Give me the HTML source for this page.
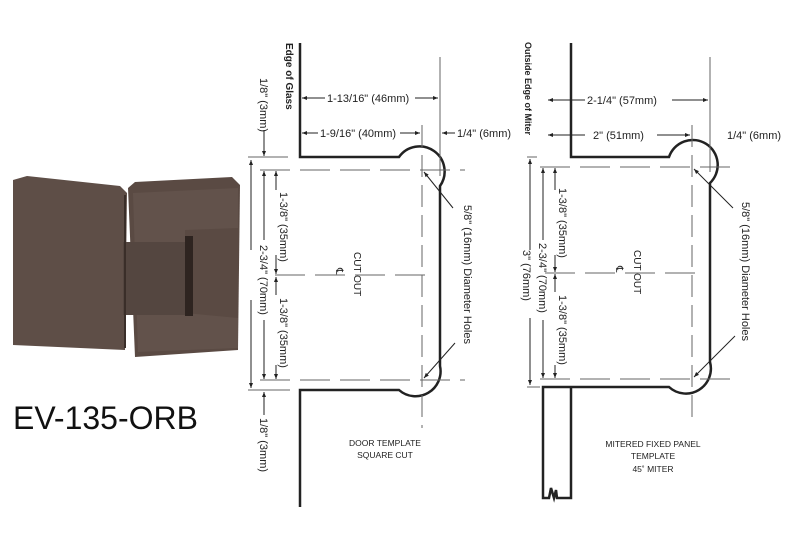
<!DOCTYPE html>
<html><head><style>
body{margin:0;background:#fff;}
svg{display:block;font-family:"Liberation Sans",sans-serif;}
</style></head><body>
<svg width="800" height="550" viewBox="0 0 800 550" xmlns="http://www.w3.org/2000/svg">
<defs>
<marker id="a" viewBox="0 0 10 10" refX="10" refY="5" markerWidth="7" markerHeight="5" orient="auto-start-reverse"><path d="M0,1 L10,5 L0,9z" fill="#222"/></marker>
</defs>
<!-- hinge photo -->
<polygon points="13,180 27,176 120,186 127,193 125,350 13,345" fill="#5e4e47"/>
<polygon points="128,188 135,182 232,177 240,185 238,350 135,357" fill="#5a4a43"/>
<polygon points="133,193 238,188 238,228 185,230 185,313 238,318 238,348 138,352" fill="#62524b"/>
<rect x="123" y="242" width="62" height="73" fill="#544640"/>
<rect x="185" y="236" width="8" height="80" fill="#2e2420"/>
<line x1="125" y1="195" x2="125" y2="348" stroke="#3a2e29" stroke-width="2"/>
<text x="13" y="429" font-size="32" fill="#111">EV-135-ORB</text>

<g stroke="#222" fill="none">
<!-- left template -->
<path d="M300,43 V157 H399 A25,25 0 1 1 440,186 V366 A25,25 0 0 1 399,390 H300 V507" stroke-width="2.5"/>
<g stroke="#666" stroke-width="1">
<line x1="440" y1="57" x2="440" y2="176"/>
<line x1="422" y1="125" x2="422" y2="428" stroke-dasharray="22,8"/>
<line x1="260" y1="170" x2="465" y2="170" stroke-dasharray="30,10"/>
<line x1="260" y1="380" x2="465" y2="380" stroke-dasharray="30,10"/>
<line x1="275" y1="275" x2="425" y2="275" stroke-dasharray="30,10"/>
<line x1="248" y1="157" x2="288" y2="157"/>
<line x1="248" y1="390" x2="290" y2="390"/>
</g>
<g stroke="#222" stroke-width="1">
<line x1="302" y1="98" x2="325" y2="98" marker-start="url(#a)"/>
<line x1="415" y1="98" x2="438" y2="98" marker-end="url(#a)"/>
<line x1="302" y1="133" x2="318" y2="133" marker-start="url(#a)"/>
<line x1="400" y1="133" x2="420" y2="133" marker-end="url(#a)"/>
<line x1="455" y1="133" x2="442" y2="133" marker-end="url(#a)"/>
<line x1="264" y1="130" x2="264" y2="156" marker-end="url(#a)"/>
<line x1="264" y1="415" x2="264" y2="392" marker-end="url(#a)"/>
<line x1="251" y1="250" x2="251" y2="160" marker-end="url(#a)"/>
<line x1="251" y1="300" x2="251" y2="388" marker-end="url(#a)"/>
<line x1="264" y1="240" x2="264" y2="171" marker-end="url(#a)"/>
<line x1="264" y1="320" x2="264" y2="379" marker-end="url(#a)"/>
<line x1="276" y1="190" x2="276" y2="171" marker-end="url(#a)"/>
<line x1="276" y1="255" x2="276" y2="274" marker-end="url(#a)"/>
<line x1="276" y1="295" x2="276" y2="277" marker-end="url(#a)"/>
<line x1="276" y1="365" x2="276" y2="379" marker-end="url(#a)"/>
<line x1="453" y1="208" x2="424" y2="172" marker-end="url(#a)"/>
<line x1="455" y1="343" x2="424" y2="378" marker-end="url(#a)"/>
</g>

<!-- right template -->
<path d="M571,43 V157 H669 A25,25 0 1 1 710,183 V362 A25,25 0 0 1 669,387 H543 V498 H549 L551,488 L554,498 L556,490 L557,498 H571 V387" stroke-width="2.5"/>
<g stroke="#666" stroke-width="1">
<line x1="710" y1="57" x2="710" y2="172"/>
<line x1="692" y1="125" x2="692" y2="420" stroke-dasharray="22,8"/>
<line x1="540" y1="167" x2="737" y2="167" stroke-dasharray="30,10"/>
<line x1="540" y1="379" x2="737" y2="379" stroke-dasharray="30,10"/>
<line x1="545" y1="273" x2="695" y2="273" stroke-dasharray="30,10"/>
<line x1="527" y1="157" x2="537" y2="157"/>
<line x1="527" y1="387" x2="540" y2="387"/>
</g>
<g stroke="#222" stroke-width="1">
<line x1="585" y1="100" x2="548" y2="100" marker-end="url(#a)"/>
<line x1="672" y1="100" x2="708" y2="100" marker-end="url(#a)"/>
<line x1="585" y1="135" x2="548" y2="135" marker-end="url(#a)"/>
<line x1="657" y1="135" x2="690" y2="135" marker-end="url(#a)"/>
<line x1="530" y1="250" x2="530" y2="159" marker-end="url(#a)"/>
<line x1="530" y1="318" x2="530" y2="385" marker-end="url(#a)"/>
<line x1="543" y1="240" x2="543" y2="168" marker-end="url(#a)"/>
<line x1="543" y1="320" x2="543" y2="378" marker-end="url(#a)"/>
<line x1="555" y1="190" x2="555" y2="168" marker-end="url(#a)"/>
<line x1="555" y1="255" x2="555" y2="272" marker-end="url(#a)"/>
<line x1="555" y1="292" x2="555" y2="274" marker-end="url(#a)"/>
<line x1="555" y1="365" x2="555" y2="378" marker-end="url(#a)"/>
<line x1="733" y1="208" x2="694" y2="169" marker-end="url(#a)"/>
<line x1="735" y1="336" x2="694" y2="377" marker-end="url(#a)"/>
</g>
</g>

<g font-size="11" fill="#222">
<text x="327" y="102">1-13/16" (46mm)</text>
<text x="320" y="137">1-9/16" (40mm)</text>
<text x="457" y="137">1/4" (6mm)</text>
<text x="587" y="104">2-1/4" (57mm)</text>
<text x="593" y="139">2" (51mm)</text>
<text x="727" y="139">1/4" (6mm)</text>
<text transform="translate(286,43) rotate(90)" font-weight="bold" font-size="10">Edge of Glass</text>
<text transform="translate(525,42) rotate(90)" font-weight="bold" font-size="9">Outside Edge of Miter</text>
<text transform="translate(260,78) rotate(90)">1/8" (3mm)</text>
<text transform="translate(260,418) rotate(90)">1/8" (3mm)</text>
<text transform="translate(280,192) rotate(90)">1-3/8" (35mm)</text>
<text transform="translate(280,298) rotate(90)">1-3/8" (35mm)</text>
<text transform="translate(260,245) rotate(90)">2-3/4" (70mm)</text>
<text transform="translate(354,252) rotate(90)" font-size="10">CUT OUT</text>
<text transform="translate(336,268) rotate(90)" font-size="10">℄</text>
<text transform="translate(464,205) rotate(90)">5/8" (16mm) Diameter Holes</text>
<text transform="translate(559,188) rotate(90)">1-3/8" (35mm)</text>
<text transform="translate(559,295) rotate(90)">1-3/8" (35mm)</text>
<text transform="translate(539,243) rotate(90)">2-3/4" (70mm)</text>
<text transform="translate(523,250) rotate(90)">3" (76mm)</text>
<text transform="translate(634,250) rotate(90)" font-size="10">CUT OUT</text>
<text transform="translate(616,266) rotate(90)" font-size="10">℄</text>
<text transform="translate(742,202) rotate(90)">5/8" (16mm) Diameter Holes</text>
</g>
<g font-size="8.5" fill="#222" text-anchor="middle">
<text x="385" y="446">DOOR TEMPLATE</text>
<text x="385" y="458">SQUARE CUT</text>
<text x="653" y="447">MITERED FIXED PANEL</text>
<text x="653" y="459">TEMPLATE</text>
<text x="653" y="472">45˚ MITER</text>
</g>
</svg>
</body></html>
